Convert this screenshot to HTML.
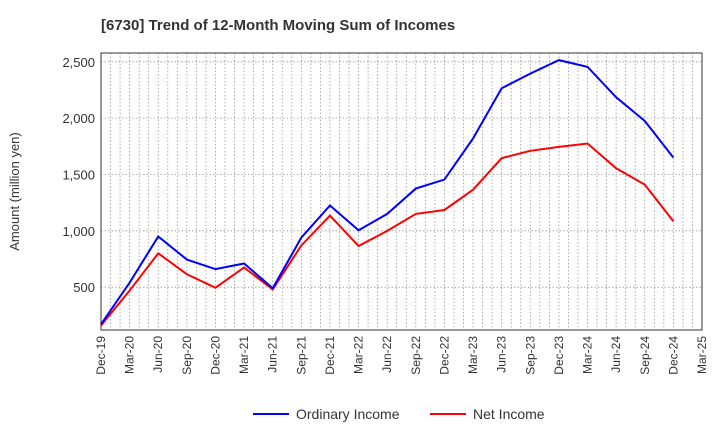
<!DOCTYPE html>
<html><head><meta charset="utf-8"><style>
body{margin:0;background:#fff;font-family:"Liberation Sans",sans-serif}
</style></head><body>
<svg id="c" width="720" height="440" xmlns="http://www.w3.org/2000/svg" font-family="Liberation Sans, sans-serif"></svg>
<script>
const categories=["Dec-19","Mar-20","Jun-20","Sep-20","Dec-20","Mar-21","Jun-21","Sep-21","Dec-21","Mar-22","Jun-22","Sep-22","Dec-22","Mar-23","Jun-23","Sep-23","Dec-23","Mar-24","Jun-24","Sep-24","Dec-24","Mar-25"];
const ordinaryIncome=[170,540,950,745,660,710,490,940,1225,1005,1150,1375,1455,1820,2265,2395,2515,2455,2185,1975,1650];
const netIncome=[160,470,800,615,495,675,480,870,1135,865,1000,1150,1185,1365,1645,1710,1745,1775,1555,1410,1085];
const yTicks=[500,1000,1500,2000,2500];
const yTickLabels=["500","1,000","1,500","2,000","2,500"];
const svg=document.getElementById('c');const NS="http://www.w3.org/2000/svg";
const L=101,R=702,T=53,B=330,yMin=120,yMax=2578;
const xs=i=>L+i*(R-L)/(categories.length-1);
const ys=v=>B-(v-yMin)/(yMax-yMin)*(B-T);
function mk(t,a,p){const e=document.createElementNS(NS,t);for(const k in a)e.setAttribute(k,a[k]);(p||svg).appendChild(e);return e;}
const title=mk('text',{x:101,y:30,'font-size':15,'font-weight':'bold',fill:'#333'});


title.textContent="[6730]  Trend of 12-Month Moving Sum of Incomes";
for(let m=1;m<(categories.length-1)*3;m++){const x=L+m*(R-L)/((categories.length-1)*3);
const g=mk('line',{x1:x,x2:x,y1:T,y2:B,stroke:'#999','stroke-dasharray':'1.5,2','stroke-width':0.8});

}
yTicks.forEach((v,i)=>{const y=ys(v);
const g=mk('line',{x1:L,x2:R,y1:y,y2:y,stroke:'#999','stroke-dasharray':'1.5,2','stroke-width':0.8});


const t=mk('text',{x:L-6,y:y+5,'text-anchor':'end','font-size':13,fill:'#333'});


t.textContent=yTickLabels[i];});
const frame=mk('rect',{x:L,y:T,width:R-L,height:B-T,fill:'none',stroke:'#333','stroke-width':1});


categories.forEach((c,i)=>{const x=xs(i);
const t=mk('text',{transform:`translate(${x+4},${B+6}) rotate(-90)`,'text-anchor':'end','font-size':12,fill:'#333'});


t.textContent=c;});
const yt=mk('text',{transform:`translate(19,${(T+B)/2}) rotate(-90)`,'text-anchor':'middle','font-size':13,fill:'#333'});


yt.textContent="Amount (million yen)";
function series(d,col,name){const p=mk('polyline',{points:d.map((v,i)=>xs(i)+','+ys(v)).join(' '),fill:'none',stroke:col,'stroke-width':2});

}
series(netIncome,'#ff0000','net-income-line');
series(ordinaryIncome,'#0000ff','ordinary-income-line');
function legend(x,col,label,name){const g=mk('g',{});


mk('line',{x1:x,x2:x+36,y1:414,y2:414,stroke:col,'stroke-width':2},g);
const t=mk('text',{x:x+43,y:419,'font-size':14,fill:'#333'},g);t.textContent=label;}
legend(253,'#0000ff','Ordinary Income','legend-ordinary-income');
legend(430,'#ff0000','Net Income','legend-net-income');
</script>
</body></html>
